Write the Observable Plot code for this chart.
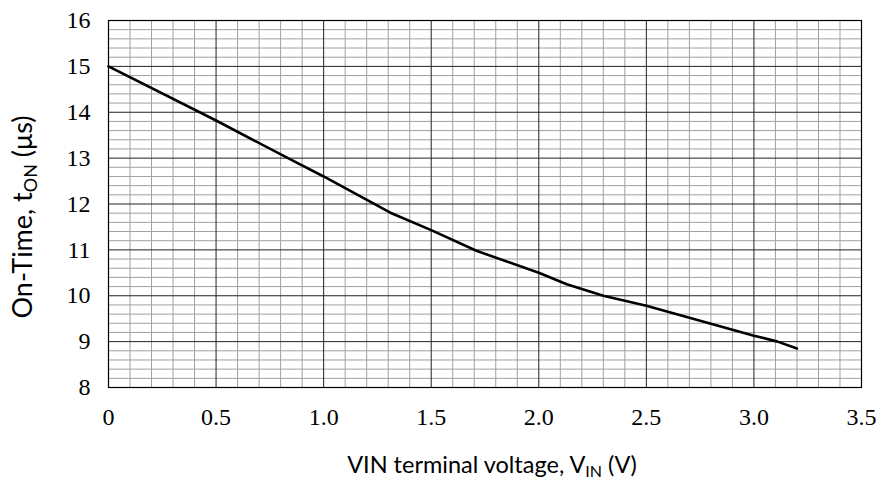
<!DOCTYPE html>
<html>
<head>
<meta charset="utf-8">
<script src="https://cdn.jsdelivr.net/npm/d3@7"></script>
<script src="https://cdn.jsdelivr.net/npm/@observablehq/plot@0.6"></script>
<style>
  html, body { margin: 0; padding: 0; background: #fff; }
  #chart { width: 880px; height: 480px; }
</style>
</head>
<body>
<div id="chart"></div>
<script>
// Data
const vin = [0, 0.5, 0.85, 1.0, 1.31, 1.5, 1.71, 2.0, 2.13, 2.3, 2.5, 3.0, 3.11, 3.2];
const ton = [15.0, 13.82, 12.96, 12.6, 11.81, 11.43, 10.98, 10.50, 10.25, 10.0, 9.78, 9.13, 9.0, 8.85];

const xMajor = [0, 0.5, 1.0, 1.5, 2.0, 2.5, 3.0, 3.5];
const xTickLabels = ["0", "0.5", "1.0", "1.5", "2.0", "2.5", "3.0", "3.5"];
const yMajor = [8, 9, 10, 11, 12, 13, 14, 15, 16];
const xMinor = d3.range(1, 35).map(i => i / 10).filter(v => Math.abs(v * 2 - Math.round(v * 2)) > 1e-9);
const yMinor = d3.range(40, 81).map(i => i / 5).filter(v => Math.abs(v - Math.round(v)) > 1e-9);

const data = vin.map((v, i) => ({ v, t: ton[i] }));

const plot = Plot.plot({
  width: 880,
  height: 480,
  marginLeft: 108,
  marginRight: 19,
  marginTop: 20,
  marginBottom: 93,
  style: { fontFamily: "'Liberation Serif', 'Times New Roman', serif", fontSize: "24px", color: "#000", background: "#fff" },
  x: { domain: [0, 3.5], label: null },
  y: { domain: [8, 16], label: null },
  marks: [
    Plot.ruleX(xMinor, { stroke: "#a0a0a0", strokeWidth: 1 }),
    Plot.ruleY(yMinor, { stroke: "#a0a0a0", strokeWidth: 1 }),
    Plot.ruleX(xMajor, { stroke: "#222", strokeWidth: 1 }),
    Plot.ruleY(yMajor, { stroke: "#222", strokeWidth: 1 }),
    Plot.frame({ stroke: "#000", strokeWidth: 1.2 }),
    Plot.axisX({ ticks: xMajor, tickFormat: (d) => xTickLabels[xMajor.indexOf(d)], tickSize: 0, tickPadding: 20, label: null, fontSize: 24 }),
    Plot.axisY({ ticks: yMajor, tickFormat: d => String(d), tickSize: 0, tickPadding: 18, label: null, fontSize: 24 }),
    Plot.line(data, { x: "v", y: "t", stroke: "#000", strokeWidth: 2.6 })
  ]
});

const svg = d3.select(plot);
const sansFont = "Lato, 'Open Sans', 'Liberation Sans', sans-serif";

// Y-axis title with subscript
const yt = svg.append("text")
  .attr("transform", "translate(32,217) rotate(-90)")
  .attr("text-anchor", "middle")
  .attr("font-family", sansFont)
  .attr("font-size", 27)
  .attr("fill", "#000");
yt.append("tspan").text("On-Time, t");
yt.append("tspan").attr("font-size", 18).attr("dy", 5).text("ON");
yt.append("tspan").attr("dy", -5).text(" (μs)");

// X-axis title with subscript
const xt = svg.append("text")
  .attr("x", 492)
  .attr("y", 473)
  .attr("text-anchor", "middle")
  .attr("font-family", sansFont)
  .attr("font-size", 23.5)
  .attr("fill", "#000");
xt.append("tspan").text("VIN terminal voltage, V");
xt.append("tspan").attr("font-size", 16).attr("dy", 4).text("IN");
xt.append("tspan").attr("dy", -4).text(" (V)");

document.getElementById("chart").appendChild(plot);
</script>
</body>
</html>
